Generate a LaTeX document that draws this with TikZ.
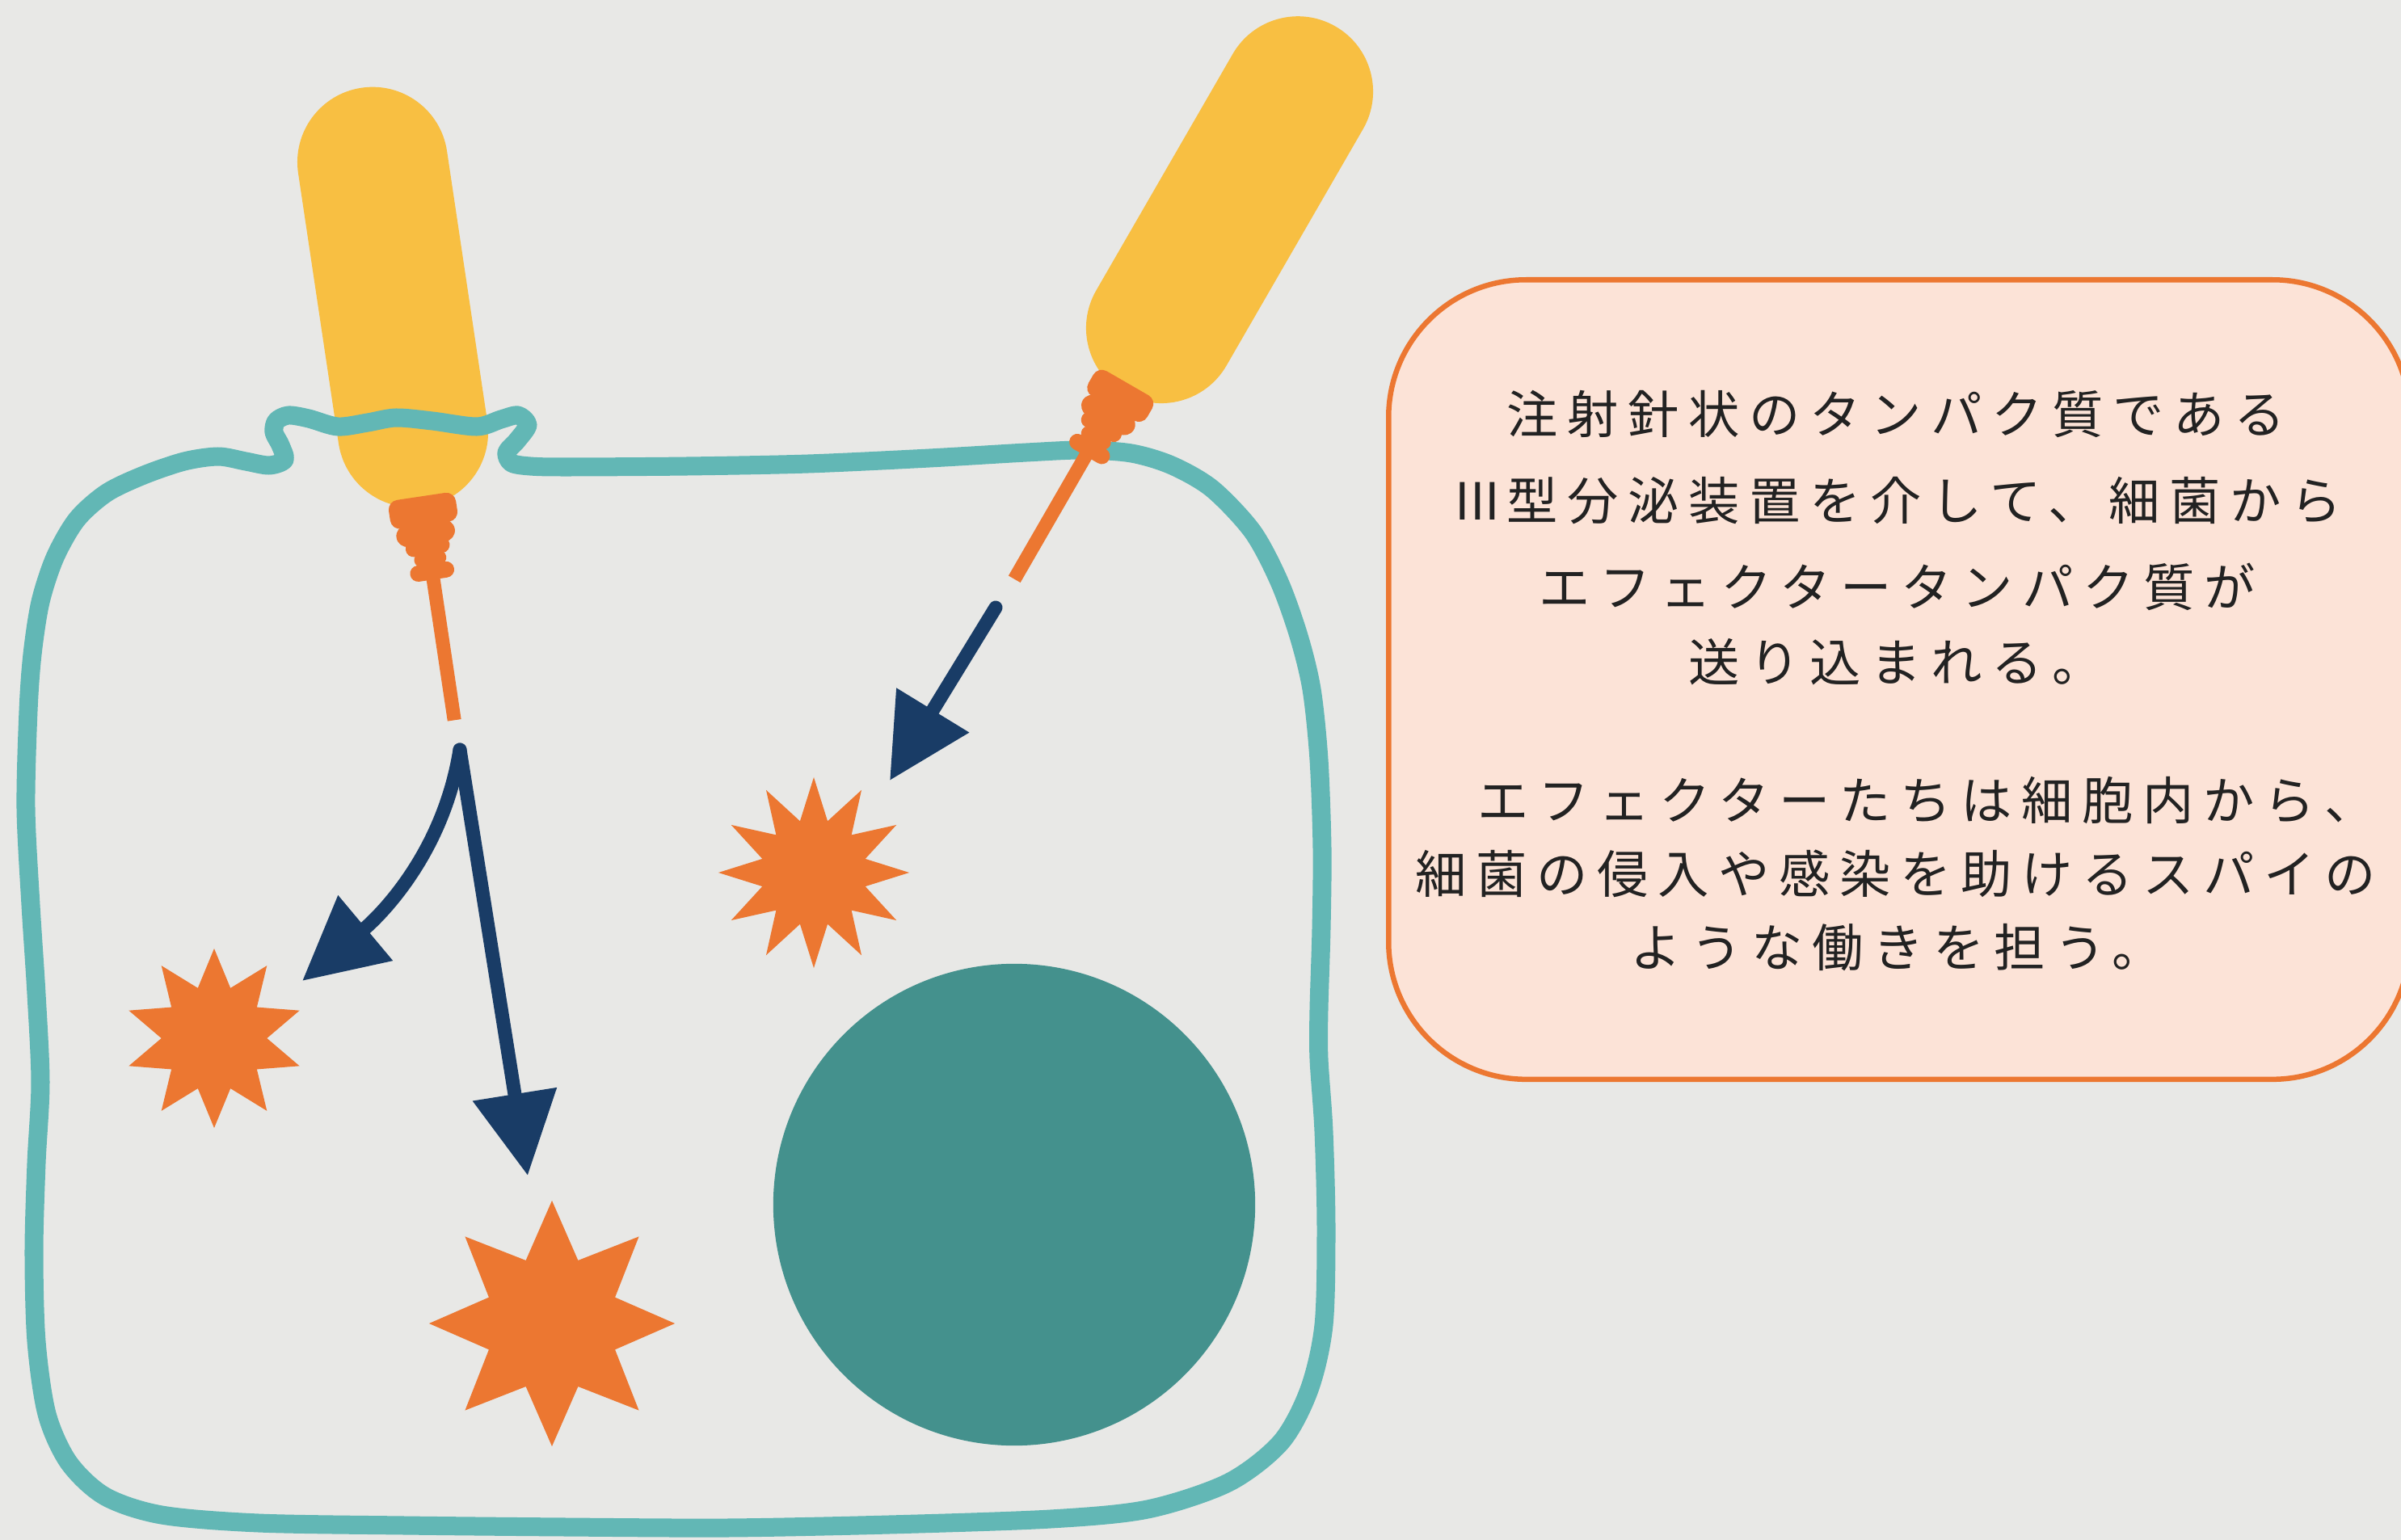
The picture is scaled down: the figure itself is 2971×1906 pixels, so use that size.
\documentclass[tikz,border=0pt]{standalone}
\usepackage{fontspec}
\newfontfamily\jpfont{Noto Sans CJK JP}[LetterSpace=18.5]
\usetikzlibrary{arrows.meta,shapes.geometric}

\definecolor{bgc}{HTML}{E8E8E6}
\definecolor{bugc}{HTML}{F8BF42}
\definecolor{membc}{HTML}{62B7B5}
\definecolor{nucc}{HTML}{44918D}
\definecolor{orc}{HTML}{EC7731}
\definecolor{navyc}{HTML}{193C66}
\definecolor{notec}{HTML}{FCE3D7}
\definecolor{inkc}{HTML}{222222}

\tikzset{
  membrane/.style={draw=membc, line width=2.3mm, line join=round},
  pill/.style={draw=orc, line cap=round},
  injector/.style={navyc, line width=1.7mm, line cap=round,
    -{Triangle[length=10.2mm,width=10.1mm]}},
  burst/.style={star, fill=orc, draw=none, inner sep=0pt},
  txt/.style={font=\jpfont\fontsize{18pt}{20pt}\selectfont, text=inkc,
    inner sep=0pt, anchor=west},
  % rod-shaped bacterial cell, origin at the centre of its lower cap
  rodcell/.pic={
    \draw[bugc, line width=18.6mm, line cap=round] (0,-338) -- (0,0);
  },
  % type III secretion apparatus with its needle
  secretor/.pic={
    \fill[orc, rounded corners=1.2mm] (-44,80) rectangle (40,116);
    \draw[pill, line width=2.7mm] (-26,126) -- (20,126);
    \draw[pill, line width=2mm] (-20.5,143) -- (14.5,143);
    \draw[pill, line width=1.8mm] (-13,158) -- (9,158);
    \draw[pill, line width=2mm] (-19.5,174) -- (15.5,174);
    \draw[orc, line width=1.7mm] (-2,170) -- (-2,360);
  }
}

\begin{document}
\begin{tikzpicture}[x=0.01cm, y=-0.01cm]
\useasboundingbox (0,0) rectangle (2971,1906);
\clip (0,0) rectangle (2971,1906);
\fill[bgc] (0,0) rectangle (2971,1906);

% left bacterium, pierced by the host membrane
\pic[rotate=8.5] at (511,535) {rodcell};

% host cell membrane
\draw[membrane] plot[smooth cycle, tension=0.5] coordinates {
  (178,588) (228,571) (270,565) (304,571) (333,576) (352,569) (347,551)
  (339,535) (342,521) (357,514) (382,518) (418,528) (455,523) (490,517)
  (535,521) (590,528) (620,519) (641,514) (653,526) (640,545) (627,560)
  (633,573) (656,577) (700,578) (850,577) (1000,574) (1150,567) (1270,560)
  (1340,557) (1400,561) (1450,576) (1500,605) (1550,658) (1583,720)
  (1607,787) (1623,853) (1632,940) (1636,1050) (1635,1150) (1632,1250)
  (1632,1310) (1638,1400) (1641,1520) (1638,1640) (1620,1720) (1585,1785)
  (1520,1835) (1420,1868) (1300,1880) (1100,1887) (900,1891) (700,1890)
  (500,1888) (320,1885) (200,1875) (130,1852) (85,1810) (58,1750)
  (45,1660) (42,1550) (45,1440) (50,1340) (45,1230) (38,1120) (32,1000)
  (35,880) (40,810) (50,745) (68,690) (95,643) (132,610)};

% right bacterium with its injectisome
\pic[rotate=-30] at (1437,406) {rodcell};
\pic[rotate=-30] at (1437,406) {secretor};
% injectisome of the left bacterium
\pic[rotate=8.5] at (511,535) {secretor};

% nucleus
\node[circle, fill=nucc, inner sep=0pt, minimum size=5.96cm] (nucleus) at (1255,1491) {};

% effector proteins
\node[burst, star points=12, star point ratio=1.79, minimum size=2.36cm] (effA) at (1007,1080) {};
\node[burst, star points=10, star point ratio=1.70, minimum size=2.22cm] (effB) at (265,1285) {};
\node[burst, star points=8, star point ratio=1.80, minimum size=3.04cm] (effC) at (683,1638) {};

% injection arrows
\coordinate (srcL) at (569,928);
\coordinate (endB) at (374,1214);
\coordinate (endC) at (653,1455);
\coordinate (srcR) at (1232,752);
\coordinate (endA) at (1101,966);
\draw[injector] (srcL) .. controls (548,1060) and (466,1137) .. (endB);
\draw[injector] (srcL) -- (endC);
\draw[injector] (srcR) -- (endA);

% explanation panel
\node[draw=orc, fill=notec, line width=0.65mm, rounded corners=17mm,
  anchor=north west, minimum width=12.63cm, minimum height=9.89cm,
  inner sep=0pt] (note) at (1715,343) {};
\node[txt] (l1) at (1864,512) {注射針状のタンパク質である};
\node[txt] (l2) at (1800,620) {{\addfontfeature{LetterSpace=0}III}\hspace{0.8mm}型分泌装置を介して、細菌から};
\node[txt] (l3) at (1904,726) {エフェクタータンパク質が};
\node[txt] (l4) at (2089,819) {送り込まれる。};
\node[txt] (l5) at (1828,990) {エフェクターたちは細胞内から、};
\node[txt] (l6) at (1751,1081) {細菌の侵入や感染を助けるスパイの};
\node[txt] (l7) at (2017,1173) {ような働きを担う。};
\end{tikzpicture}
\end{document}
